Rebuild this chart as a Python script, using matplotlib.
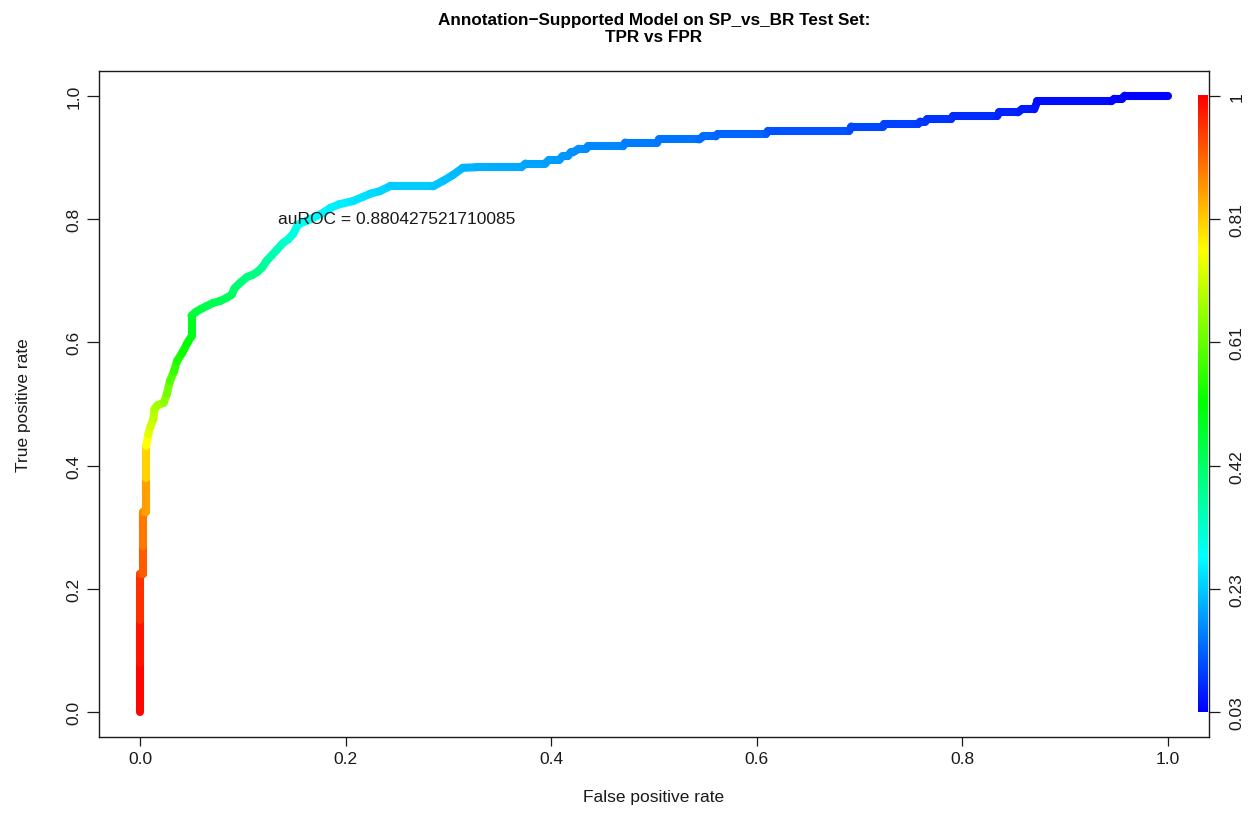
import numpy as np
import matplotlib
matplotlib.use("Agg")
import matplotlib.pyplot as plt
from matplotlib.collections import LineCollection
from matplotlib.colors import ListedColormap, Normalize, hsv_to_rgb

plt.rcParams['font.family'] = ['Liberation Sans', 'DejaVu Sans']

# ROC curve
fpr = [0.000, 0.000, 0.000, 0.000, 0.003, 0.003, 0.003, 0.006, 0.006, 0.006,
       0.008, 0.010, 0.013, 0.014, 0.017, 0.023, 0.026, 0.029, 0.033, 0.036,
       0.041, 0.046, 0.050, 0.050, 0.054, 0.059, 0.065, 0.071, 0.078, 0.084,
       0.089, 0.092, 0.097, 0.104, 0.109, 0.114, 0.119, 0.123, 0.128, 0.133,
       0.139, 0.144, 0.149, 0.153, 0.156, 0.162, 0.172, 0.179, 0.185, 0.194,
       0.207, 0.217, 0.224, 0.233, 0.243, 0.285, 0.295, 0.304, 0.314, 0.328,
       0.342, 0.371, 0.375, 0.394, 0.398, 0.408, 0.411, 0.416, 0.419, 0.421,
       0.427, 0.434, 0.436, 0.470, 0.472, 0.503, 0.505, 0.544, 0.548, 0.560,
       0.562, 0.609, 0.611, 0.690, 0.692, 0.723, 0.724, 0.757, 0.759, 0.764,
       0.766, 0.789, 0.791, 0.834, 0.836, 0.854, 0.858, 0.870, 0.873, 0.945,
       0.948, 0.955, 0.958, 1.000]
tpr = [0.000, 0.080, 0.150, 0.224, 0.224, 0.270, 0.325, 0.325, 0.380, 0.432,
       0.451, 0.463, 0.476, 0.492, 0.498, 0.502, 0.516, 0.537, 0.553, 0.570,
       0.583, 0.599, 0.610, 0.643, 0.649, 0.654, 0.659, 0.664, 0.667, 0.672,
       0.677, 0.688, 0.696, 0.706, 0.709, 0.714, 0.722, 0.732, 0.741, 0.750,
       0.761, 0.767, 0.776, 0.789, 0.793, 0.797, 0.805, 0.811, 0.818, 0.824,
       0.829, 0.836, 0.841, 0.845, 0.853, 0.853, 0.862, 0.871, 0.883, 0.884,
       0.884, 0.884, 0.890, 0.890, 0.896, 0.896, 0.902, 0.902, 0.908, 0.908,
       0.914, 0.914, 0.918, 0.918, 0.924, 0.924, 0.929, 0.929, 0.934, 0.934,
       0.938, 0.938, 0.943, 0.943, 0.950, 0.950, 0.954, 0.954, 0.958, 0.958,
       0.962, 0.962, 0.967, 0.967, 0.973, 0.973, 0.978, 0.978, 0.991, 0.991,
       0.995, 0.995, 1.000, 1.000]
# cutoff at each point (estimated from the colour of the curve)
cutoff = [1.00, 0.99, 0.97, 0.935, 0.925, 0.90, 0.87, 0.865, 0.83, 0.77,
          0.74, 0.72, 0.71, 0.68, 0.675, 0.665, 0.64, 0.61, 0.58, 0.55,
          0.535, 0.52, 0.51, 0.475, 0.465, 0.455, 0.45, 0.445, 0.44, 0.435,
          0.43, 0.42, 0.41, 0.40, 0.395, 0.39, 0.38, 0.37, 0.36, 0.345,
          0.33, 0.32, 0.31, 0.295, 0.29, 0.285, 0.275, 0.27, 0.265, 0.26,
          0.255, 0.25, 0.245, 0.24, 0.235, 0.225, 0.22, 0.215, 0.21, 0.205,
          0.20, 0.195, 0.19, 0.188, 0.185, 0.183, 0.18, 0.178, 0.176, 0.175,
          0.172, 0.17, 0.168, 0.16, 0.158, 0.15, 0.148, 0.14, 0.138, 0.135,
          0.133, 0.125, 0.123, 0.11, 0.108, 0.10, 0.098, 0.092, 0.09, 0.088,
          0.086, 0.082, 0.08, 0.072, 0.07, 0.066, 0.064, 0.06, 0.05, 0.042,
          0.04, 0.037, 0.035, 0.034]

cut_min, cut_max = 0.034, 1.0
cbar_ticks = [0.0, 0.2, 0.4, 0.6, 0.8, 1.0]
cbar_labels = ['0.03', '0.23', '0.42', '0.61', '0.81', '1']
auc_text = 'auROC = 0.880427521710085'
auc_pos = (0.25, 0.8)
title_lines = ['Annotation\u2212Supported Model on SP_vs_BR Test Set:',
               'TPR vs FPR']

# R-style rainbow palette: blue (low cutoff) -> red (high cutoff)
hues = (1 - np.linspace(0, 1, 256)) * 2 / 3
rgb = hsv_to_rgb(np.column_stack([hues, np.ones(256), np.ones(256)]))
rainbow = ListedColormap(rgb)
norm = Normalize(cut_min, cut_max)

W, H = 1260, 828
fig = plt.figure(figsize=(W / 100, H / 100), dpi=100)
ax = fig.add_axes([99 / W, 1 - 738 / H, 1110 / W, 666 / H])

pts = np.column_stack([fpr, tpr])
segs = np.stack([pts[:-1], pts[1:]], axis=1)
cseg = (np.array(cutoff[:-1]) + np.array(cutoff[1:])) / 2
lc = LineCollection(segs, colors=rainbow(norm(cseg)), linewidths=5.8,
                    capstyle='round', joinstyle='round')
ax.add_collection(lc)

# colour bar at the right edge of the plot
grad = np.linspace(0, 1, 256).reshape(-1, 1)
ax.imshow(grad, extent=[1.029, 1.038, 0, 1], origin='lower', aspect='auto',
          cmap=rainbow)

ax.text(auc_pos[0], auc_pos[1], auc_text, ha='center', va='center',
        fontsize=12.5, color='#1a1a1a')

ticks = [0.0, 0.2, 0.4, 0.6, 0.8, 1.0]
tick_labels = ['0.0', '0.2', '0.4', '0.6', '0.8', '1.0']
ax.set_xlim(-0.04, 1.04)
ax.set_ylim(-0.04, 1.04)
ax.set_xticks(ticks)
ax.set_yticks(ticks)
ax.set_xticklabels(tick_labels, fontsize=12.5)
ax.set_yticklabels(tick_labels, fontsize=12.5, rotation=90, va='center')
ax.tick_params(axis='x', direction='out', length=6.3, width=0.9, pad=4,
               colors='#1a1a1a')
ax.tick_params(axis='y', direction='out', length=8.5, width=0.9, pad=4,
               colors='#1a1a1a')
for s in ax.spines.values():
    s.set_linewidth(1.0)
    s.set_color('#1a1a1a')

ax2 = ax.twinx()
ax2.set_ylim(-0.04, 1.04)
ax2.set_yticks(cbar_ticks)
ax2.set_yticklabels(cbar_labels, fontsize=12.5, rotation=90, va='center')
ax2.tick_params(direction='out', length=8, width=0.9, pad=7, colors='#1a1a1a')
for s in ax2.spines.values():
    s.set_visible(False)

ax.set_xlabel('False positive rate', fontsize=12.5, labelpad=16, color='#1a1a1a')
ax.set_ylabel('True positive rate', fontsize=12.5, labelpad=26, color='#1a1a1a')

fig.text(654 / W, 1 - 21 / H, title_lines[0], ha='center', va='center',
         fontsize=12.3, fontweight='bold')
fig.text(654 / W, 1 - 38 / H, title_lines[1], ha='center', va='center',
         fontsize=12.3, fontweight='bold')

fig.savefig('out.png', dpi=100)
